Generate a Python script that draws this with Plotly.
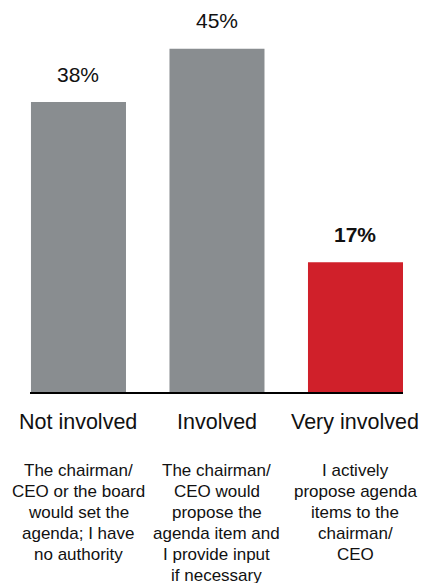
import plotly.graph_objects as go

categories = ["Not involved", "Involved", "Very involved"]
values = [38, 45, 17]
value_labels = ["38%", "45%", "17%"]
descriptions = [
    ["The chairman/", "CEO or the board", "would set the", "agenda; I have", "no authority"],
    ["The chairman/", "CEO would", "propose the", "agenda item and", "I provide input", "if necessary"],
    ["I actively", "propose agenda", "items to the", "chairman/", "CEO"],
]
bar_colors = ["#898D90", "#898D90", "#D0202A"]
label_bold = [False, False, True]

FONT = "Liberation Sans, Arial, sans-serif"
x_idx = list(range(len(categories)))

fig = go.Figure()
fig.add_trace(go.Bar(
    x=x_idx, y=values, marker_color=bar_colors, marker_line_width=0,
    hoverinfo="skip", showlegend=False,
))

annotations = []
for i, (v, lab, b) in enumerate(zip(values, value_labels, label_bold)):
    annotations.append(dict(
        x=i, y=v, xref="x", yref="y", text=f"<b>{lab}</b>" if b else lab,
        showarrow=False, yanchor="middle", yshift=28,
        font=dict(family=FONT, size=21, color="#111111"),
    ))
for i, c in enumerate(categories):
    annotations.append(dict(
        x=i, y=0, xref="x", yref="paper", text=c, showarrow=False,
        yanchor="middle", yshift=-30,
        font=dict(family=FONT, size=21.5, color="#111111"),
    ))
for i, lines in enumerate(descriptions):
    for j, line in enumerate(lines):
        annotations.append(dict(
            x=i, y=0, xref="x", yref="paper", text=line, showarrow=False,
            yanchor="middle", yshift=-(78.5 + 20.9 * j),
            font=dict(family=FONT, size=17, color="#111111"),
        ))

fig.update_layout(
    width=421, height=583,
    margin=dict(l=30, r=18, t=10, b=191),
    plot_bgcolor="white", paper_bgcolor="white",
    bargap=0.314,
    annotations=annotations,
    xaxis=dict(range=[-0.350, 2.343], showticklabels=False, ticks="",
               showgrid=False, zeroline=False, showline=True,
               linecolor="black", linewidth=2, fixedrange=True),
    yaxis=dict(range=[0, 50.07], visible=False, showgrid=False,
               zeroline=False, fixedrange=True),
)

fig.write_html(
    "out.html",
    config={"displayModeBar": False},
    post_script="document.body.style.margin='0';document.body.style.padding='0';document.body.style.overflow='hidden';",
)
